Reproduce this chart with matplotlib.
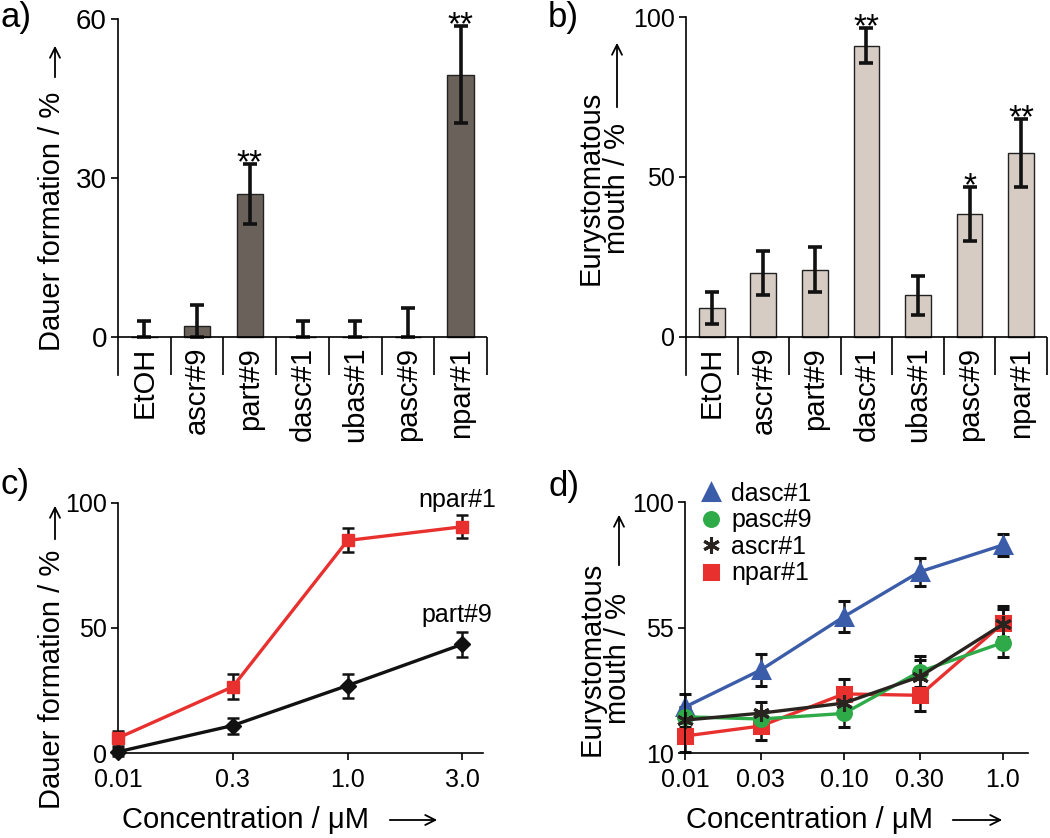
import numpy as np
import matplotlib
matplotlib.use('Agg')
import matplotlib.pyplot as plt
from matplotlib.lines import Line2D
from matplotlib.ticker import NullLocator

plt.rcParams['font.family'] = ['Liberation Sans', 'DejaVu Sans']

# a) / b) single compound screen
compounds = ['EtOH', 'ascr#9', 'part#9', 'dasc#1', 'ubas#1', 'pasc#9', 'npar#1']
dauer = [0, 2, 27, 0, 0, 0, 49.5]
dauer_err = [3, 4, 5.6, 3, 3, 5.5, 9.2]
dauer_sig = ['', '', '**', '', '', '', '**']
eury = [9, 20, 21, 91, 13, 38.5, 57.5]
eury_err = [5, 7, 7, 5.5, 6, 8.5, 10.5]
eury_sig = ['', '', '', '**', '', '*', '**']

# c) dose response, dauer
conc_c = ['0.01', '0.3', '1.0', '3.0']
npar_dauer = [6, 26.5, 85, 90.5]
npar_dauer_err = [3, 5, 4.8, 4.6]
part_dauer = [0.5, 11, 27, 43.5]
part_dauer_err = [1.5, 3.2, 4.8, 5]

# d) dose response, mouth form
conc_d = [0.01, 0.03, 0.10, 0.30, 1.0]
conc_d_lbl = ['0.01', '0.03', '0.10', '0.30', '1.0']
dasc_eury = [26.5, 39.8, 58.9, 75, 84.6]
dasc_err = [4.5, 5.8, 5.5, 5, 4]
pasc_eury = [23, 22.2, 24.2, 39.2, 49.6]
pasc_err = [3.5, 3, 4.8, 5.7, 5.2]
ascr_eury = [21.8, 24.3, 27.9, 37.4, 56.2]
ascr_err = [4, 4, 4.5, 6, 6.5]
npar_eury = [16.1, 19.7, 31.2, 30.7, 56.5]
npar_err = [5.6, 5, 5.3, 5.7, 5]

RED = '#e8312f'
FS_LAB = 21
W, H = 1050, 838

fig = plt.figure(figsize=(10.5, 8.38), dpi=100)


def fx(px):
    return px / W


def fy(py):
    return 1 - py / H


def style(ax, fs):
    for s in ['top', 'right']:
        ax.spines[s].set_visible(False)
    for s in ax.spines.values():
        s.set_linewidth(1.2)
    ax.tick_params(labelsize=fs, length=5, width=1.2, direction='out', pad=3)


def bar_panel(ax, vals, errs, sigs, ymax, ybot, yticks, color, lab_off, fs):
    style(ax, fs)
    ax.spines['bottom'].set_visible(False)
    x = np.arange(len(compounds))
    lo = np.minimum(errs, vals)
    ax.bar(x, vals, width=0.5, color=color, edgecolor='#222222', lw=1.0, zorder=2)
    ax.errorbar(x, vals, yerr=[lo, errs], fmt='none', ecolor='#111111',
                elinewidth=2.6, capsize=5, capthick=2.6, zorder=3)
    ax.axhline(0, color='k', lw=1.2, zorder=4)
    ax.vlines(np.arange(0.5, len(compounds)), ybot, 0, color='k', lw=1.2, clip_on=False)
    for i, (v, e, s) in enumerate(zip(vals, errs, sigs)):
        if s:
            ax.annotate(s, (i, v + e), xytext=(0, -11), textcoords='offset points',
                        ha='center', va='bottom', fontsize=24)
        ax.text(i, -lab_off, compounds[i], rotation=90, ha='center', va='top',
                fontsize=FS_LAB)
    ax.set_xlim(-0.5, len(compounds) - 0.5)
    ax.set_ylim(ybot, ymax)
    ax.set_yticks(yticks)
    ax.set_xticks([])


# a)
ax_a = fig.add_axes([0.1124, 0.5525, 0.3514, 0.4248])
bar_panel(ax_a, dauer, dauer_err, dauer_sig, 60, -7.2, [0, 30, 60], '#6a625a', 1.9, 20)

# b)
ax_b = fig.add_axes([0.6533, 0.5525, 0.3438, 0.4272])
bar_panel(ax_b, eury, eury_err, eury_sig, 100, -11.9, [0, 50, 100], '#d6ccc4', 3.1, 18)

# c)
ax_c = fig.add_axes([0.1124, 0.1014, 0.3476, 0.2984])
style(ax_c, 18)
ax_c.tick_params(axis='x', pad=6)
xc = np.arange(len(conc_c))
ax_c.errorbar(xc, part_dauer, yerr=part_dauer_err, fmt='-D', color='#111111',
              ms=8, lw=2.4, ecolor='#111111', elinewidth=1.8, capsize=4.5,
              capthick=1.8, clip_on=False, zorder=3)
ax_c.errorbar(xc, npar_dauer, yerr=npar_dauer_err, fmt='-s', color=RED,
              ms=9, lw=2.4, ecolor='#111111', elinewidth=1.8, capsize=4.5,
              capthick=1.8, clip_on=False, zorder=4)
ax_c.annotate('npar#1', (xc[-1], npar_dauer[-1]), xytext=(-4, 19),
              textcoords='offset points', ha='center', va='center', fontsize=18)
ax_c.annotate('part#9', (xc[-1], part_dauer[-1]), xytext=(-4, 21),
              textcoords='offset points', ha='center', va='center', fontsize=18)
ax_c.set_xlim(0, 3.18)
ax_c.set_ylim(0, 100)
ax_c.set_xticks(xc)
ax_c.set_xticklabels(conc_c)
ax_c.set_yticks([0, 50, 100])

# d)
ax_d = fig.add_axes([0.6524, 0.1014, 0.3267, 0.2995])
style(ax_d, 18)
ax_d.tick_params(axis='x', pad=6)
ax_d.set_xscale('log')
series = [
    (dasc_eury, dasc_err, '^', '#3b5ca8', 'dasc#1', 11),
    (npar_eury, npar_err, 's', RED, 'npar#1', 10),
    (pasc_eury, pasc_err, 'o', '#2eab48', 'pasc#9', 10),
    (ascr_eury, ascr_err, (6, 2, 0), '#2a2420', 'ascr#1', 12),
]
for vals, errs, mk, col, lab, ms in series:
    ax_d.errorbar(conc_d, vals, yerr=errs, fmt='-', marker=mk, color=col,
                  mec=col, mew=2.2, ms=ms, lw=2.4, ecolor='#111111', elinewidth=1.8,
                  capsize=4.5, capthick=1.8, clip_on=False)
ax_d.set_xlim(0.01, 1.44)
ax_d.set_ylim(10, 100)
ax_d.set_xticks(conc_d)
ax_d.set_xticklabels(conc_d_lbl)
ax_d.xaxis.set_minor_locator(NullLocator())
ax_d.set_yticks([10, 55, 100])
handles = []
for lab in ['dasc#1', 'pasc#9', 'ascr#1', 'npar#1']:
    for vals, errs, mk, col, l, ms in series:
        if l == lab:
            handles.append(Line2D([], [], ls='none', marker=mk, color=col, mec=col,
                                  mew=2.2, ms=ms, label=l))
ax_d.legend(handles=handles, loc='upper left', bbox_to_anchor=(0.04, 1.08),
            frameon=False, fontsize=18, handlelength=1.0, handletextpad=0.3,
            labelspacing=0.1, borderpad=0, borderaxespad=0)

# axis titles (text + drawn arrows)
fig.text(fx(52), fy(221), 'Dauer formation / %', rotation=90,
         ha='center', va='center', fontsize=FS_LAB)
fig.text(fx(52), fy(679), 'Dauer formation / %', rotation=90,
         ha='center', va='center', fontsize=FS_LAB)
fig.text(fx(604), fy(188), 'Eurystomatous\nmouth / %', rotation=90,
         ha='center', va='center', fontsize=FS_LAB, multialignment='center',
         linespacing=0.95)
fig.text(fx(605), fy(659), 'Eurystomatous\nmouth / %', rotation=90,
         ha='center', va='center', fontsize=FS_LAB, multialignment='center',
         linespacing=0.95)
fig.text(fx(246), fy(820), 'Concentration / \u03bcM',
         ha='center', va='center', fontsize=FS_LAB)
fig.text(fx(810), fy(820), 'Concentration / \u03bcM',
         ha='center', va='center', fontsize=FS_LAB)

arrows = [
    ((55, 80), (55, 43)),
    ((55, 542), (55, 503)),
    ((617, 110), (617, 40)),
    ((619, 568), (619, 512)),
    ((387, 820), (440, 820)),
    ((950, 820), (1005, 820)),
]
for (x0, y0), (x1, y1) in arrows:
    fig.add_artist(matplotlib.patches.FancyArrowPatch(
        (fx(x0), fy(y0)), (fx(x1), fy(y1)), transform=fig.transFigure,
        arrowstyle='->', mutation_scale=18, lw=1.3, color='k'))

# panel letters
for lbl, px, py in [('a)', 0, 1), ('b)', 548, 1), ('c)', 0, 468), ('d)', 548, 470)]:
    fig.text(fx(px), fy(py), lbl, ha='left', va='top', fontsize=25)

fig.savefig('out.png', dpi=100)
